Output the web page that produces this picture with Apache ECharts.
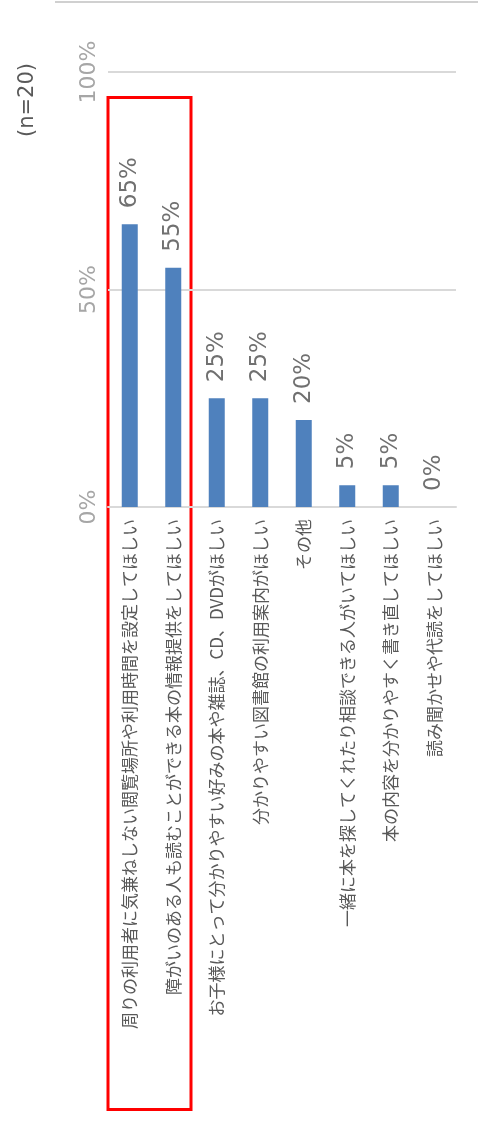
<!DOCTYPE html>
<html>
<head>
<meta charset="utf-8">
<script src="https://cdn.jsdelivr.net/npm/echarts@6/dist/echarts.min.js"></script>
<style>
html,body{margin:0;padding:0;background:#fff;}
#c{width:478px;height:1135px;}
</style>
</head>
<body>
<div id="c"></div>
<script>
const categories = [
  '周りの利用者に気兼ねしない閲覧場所や利用時間を設定してほしい',
  '障がいのある人も読むことができる本の情報提供をしてほしい',
  'お子様にとって分かりやすい好みの本や雑誌、CD、DVDがほしい',
  '分かりやすい図書館の利用案内がほしい',
  'その他',
  '一緒に本を探してくれたり相談できる人がいてほしい',
  '本の内容を分かりやすく書き直してほしい',
  '読み聞かせや代読をしてほしい'
];
const values = [65, 55, 25, 25, 20, 5, 5, 0];
const axisMin = 0, axisMax = 100, axisStep = 50;
const sampleNote = '(n=20)';

const chart = echarts.init(document.getElementById('c'));
chart.setOption({
  animation: false,
  backgroundColor: '#ffffff',
  grid: { left: 108, right: 22, top: 72, bottom: 628, containLabel: false },
  xAxis: {
    type: 'category',
    data: categories,
    axisLine: { show: true, lineStyle: { color: '#d9d9d9', width: 2 } },
    axisTick: { show: false },
    axisLabel: {
      interval: 0, rotate: 90, margin: 12,
      color: '#595959', fontSize: 17,
      fontFamily: '"Noto Sans CJK JP", sans-serif'
    }
  },
  yAxis: {
    type: 'value', min: axisMin, max: axisMax, interval: axisStep,
    axisLine: { show: false }, axisTick: { show: false },
    splitLine: { lineStyle: { color: '#d9d9d9', width: 2 } },
    axisLabel: {
      formatter: '{value}%', rotate: 90, margin: 8,
      align: 'center', verticalAlign: 'bottom',
      color: '#a6a6a6', fontSize: 22, fontFamily: '"DejaVu Sans", sans-serif'
    }
  },
  series: [{
    type: 'bar',
    data: values,
    barWidth: 16,
    itemStyle: { color: '#4f81bd' },
    label: {
      show: true, position: 'top', rotate: 90, distance: 16,
      align: 'left', verticalAlign: 'middle',
      formatter: '{c}%', color: '#707070', fontSize: 23,
      fontFamily: '"DejaVu Sans", sans-serif'
    }
  }],
  graphic: [
    { type: 'line', shape: { x1: 55, y1: 2, x2: 478, y2: 2 }, style: { stroke: '#d0d0d0', lineWidth: 2 } },
    { type: 'text', x: 28, y: 100, rotation: Math.PI / 2,
      style: { text: sampleNote, fill: '#595959', fontSize: 21,
        fontFamily: '"DejaVu Sans", sans-serif', align: 'center', verticalAlign: 'middle' } },
    { type: 'rect', shape: { x: 108, y: 97.5, width: 83, height: 1012 },
      style: { fill: 'none', stroke: '#ff0000', lineWidth: 3 } }
  ]
});
</script>
</body>
</html>
